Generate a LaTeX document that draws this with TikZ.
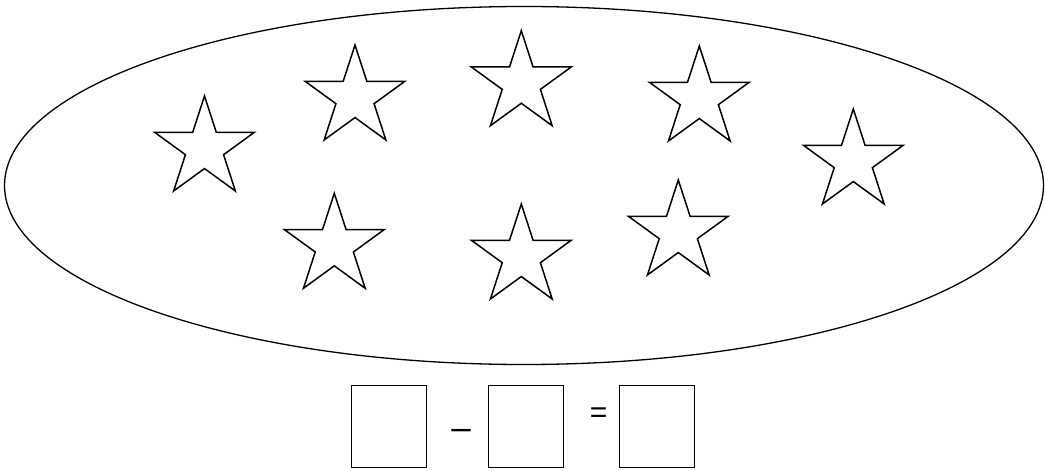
\documentclass[tikz,border=0pt]{standalone}
\usepackage{fontspec}
\setmainfont{Liberation Sans}
\usetikzlibrary{shapes.geometric}
\begin{document}
\begin{tikzpicture}[x=1pt,y=-1pt,
  starshape/.style={star, star points=5, star point ratio=2.618, draw, line width=1.5pt, inner sep=0pt, minimum size=105pt, line join=miter},
  answerbox/.style={draw, line width=1.5pt, minimum width=75pt, minimum height=82pt, inner sep=0pt},
  sign/.style={inner sep=0pt, font=\fontsize{30}{30}\selectfont}]
\useasboundingbox (0,0) rectangle (1045,471);
\node[draw, ellipse, line width=1.3pt, minimum width=1039pt, minimum height=358pt, inner sep=0pt] (set) at (524,185.5) {};
\node[starshape] (s1) at (204.5,148.5) {};
\node[starshape] (s2) at (355,97.5) {};
\node[starshape] (s3) at (521.3,83.2) {};
\node[starshape] (s4) at (699.3,98.5) {};
\node[starshape] (s5) at (853.3,161.5) {};
\node[starshape] (s6) at (334.3,245.8) {};
\node[starshape] (s7) at (521.3,256.5) {};
\node[starshape] (s8) at (678.3,232.5) {};
\node[answerbox] (b1) at (389.2,426.5) {};
\node[answerbox] (b2) at (525.8,426.5) {};
\node[answerbox] (b3) at (656.8,426.5) {};
\node[sign, anchor=base, font=\fontsize{35}{35}\selectfont] (minus) at (461,439.5) {–};
\node[sign, anchor=base] (equals) at (598.7,422) {=};
\end{tikzpicture}
\end{document}
